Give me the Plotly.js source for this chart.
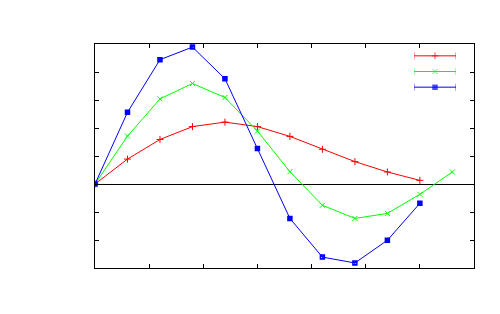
<!DOCTYPE html>
<html>
<head>
<meta charset="utf-8">
<script src="https://cdn.plot.ly/plotly-3.0.1.min.js"></script>
<style>html,body{margin:0;padding:0;background:#fff;}#chart{width:500px;height:314px;}</style>
</head>
<body>
<div id="chart"></div>
<script>
const xRed = [0, 0.6, 1.2, 1.8, 2.4, 3.0, 3.6, 4.2, 4.8, 5.4, 6.0];
const yRed = [0, 0.89, 1.59, 2.05, 2.21, 2.05, 1.70, 1.24, 0.80, 0.43, 0.13];
const xGreen = [0, 0.6, 1.2, 1.8, 2.4, 3.0, 3.6, 4.2, 4.8, 5.4, 6.0, 6.6];
const yGreen = [0, 1.71, 3.04, 3.59, 3.09, 1.89, 0.44, -0.76, -1.23, -1.05, -0.37, 0.43];
const xBlue = [0, 0.6, 1.2, 1.8, 2.4, 3.0, 3.6, 4.2, 4.8, 5.4, 6.0];
const yBlue = [0, 2.56, 4.44, 4.89, 3.76, 1.27, -1.23, -2.61, -2.82, -2.01, -0.69];

const series = [
  {x: xRed, y: yRed, color: '#ff0000', symbol: 'cross-thin-open', size: 5, lw: 1},
  {x: xGreen, y: yGreen, color: '#00ff00', symbol: 'x-thin-open', size: 5, lw: 1},
  {x: xBlue, y: yBlue, color: '#0000ff', symbol: 'square-x-open', size: 4, lw: 1.5}
];

const traces = [];
series.forEach(function (s) {
  traces.push({x: s.x, y: s.y, mode: 'lines+markers', showlegend: false,
    line: {color: s.color, width: 1},
    marker: {symbol: s.symbol, size: s.size, color: s.color, line: {color: s.color, width: s.lw}}});
});
// legend key samples (gnuplot style: line with end caps and a point in the middle)
series.forEach(function (s, i) {
  traces.push({x: [0, 0.5, 1], y: [i, i, i], xaxis: 'x2', yaxis: 'y2', mode: 'lines+markers',
    showlegend: false, hoverinfo: 'skip',
    line: {color: s.color, width: 1},
    marker: {symbol: ['line-ns-open', s.symbol, 'line-ns-open'], size: [5, s.size, 5],
             color: s.color, line: {color: s.color, width: [1, s.lw, 1]}}});
});

const axisCommon = {
  showticklabels: false, showgrid: false, ticks: 'inside', ticklen: 4, tickwidth: 1,
  tickcolor: '#000', showline: true, linecolor: '#000', linewidth: 1, mirror: 'allticks'
};
const hidden = {visible: false, showgrid: false, zeroline: false, showticklabels: false, fixedrange: true};

const layout = {
  width: 500, height: 314,
  margin: {l: 95, r: 26, t: 44, b: 46},
  paper_bgcolor: '#fff', plot_bgcolor: '#fff',
  showlegend: false,
  xaxis: Object.assign({range: [0, 7], dtick: 1, zeroline: false}, axisCommon),
  yaxis: Object.assign({range: [-3, 5], dtick: 1, zeroline: true, zerolinecolor: '#000', zerolinewidth: 1}, axisCommon),
  xaxis2: Object.assign({domain: [(414 - 95) / 379, (456 - 95) / 379], range: [0, 1], anchor: 'y2'}, hidden),
  yaxis2: Object.assign({domain: [(268 - 95) / 224, (268 - 48) / 224], range: [2.5, -0.5], anchor: 'x2'}, hidden)
};

Plotly.newPlot('chart', traces, layout, {displayModeBar: false, staticPlot: true});
</script>
</body>
</html>
